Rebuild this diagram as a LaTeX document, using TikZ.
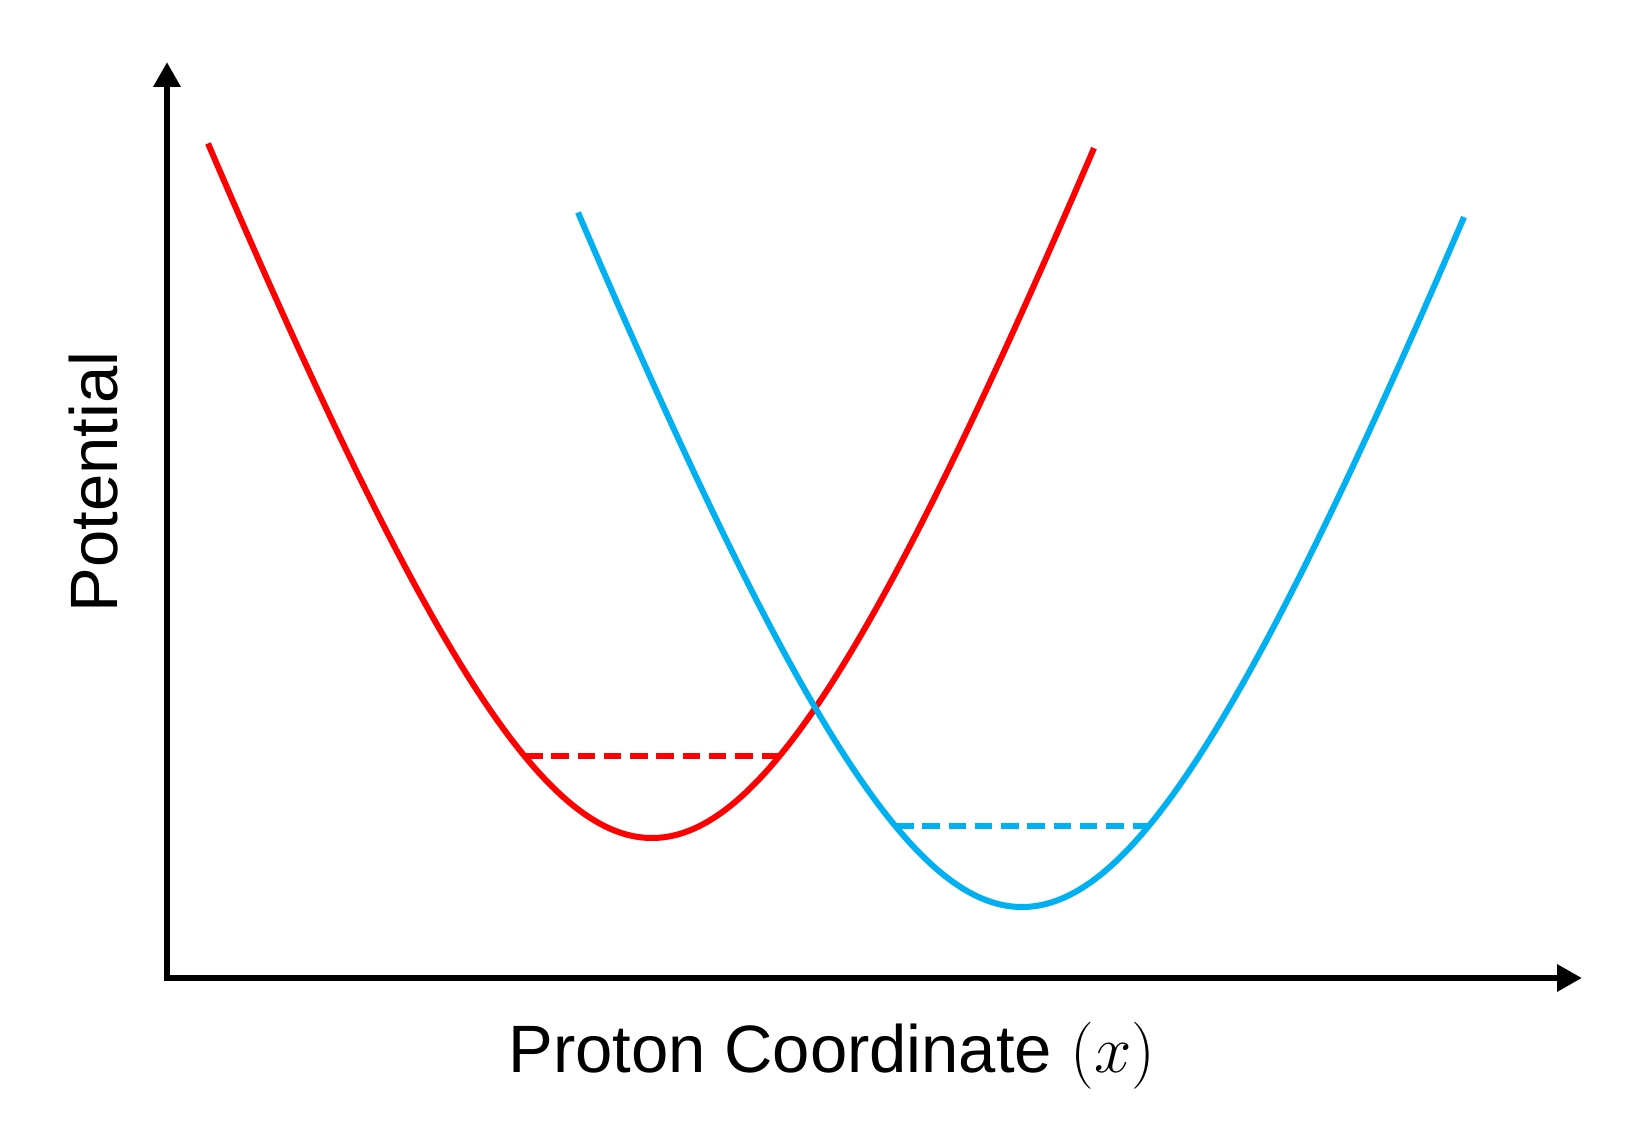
\RequirePackage{fix-cm}
\documentclass[tikz,border=0pt]{standalone}
\usepackage{fontspec}
\setmainfont{Liberation Sans}
\usetikzlibrary{arrows.meta}
\definecolor{curvered}{RGB}{255,0,0}
\definecolor{curveblue}{RGB}{0,176,240}
\tikzset{
  axisline/.style={line width=3.3pt, line join=miter, {Triangle[length=12.5pt,width=13pt]}-{Triangle[length=12.5pt,width=13pt]}},
  wellcurve/.style={line width=3pt},
  levelline/.style={line width=3.1pt, dash pattern=on 8.76pt off 4.38pt},
  axislabel/.style={font=\fontsize{33.5}{40}\selectfont, inner sep=0pt, anchor=base},
}
\begin{document}
\begin{tikzpicture}[x=0.5pt,y=-0.5pt]
\useasboundingbox (0,0) rectangle (1648,1143);
% axes
\coordinate (ytip) at (167,62);
\coordinate (origin) at (167,978);
\coordinate (xtip) at (1582,978);
\draw[axisline] (ytip) -- (origin) -- (xtip);
% red well (vertex 652,838)
\draw[wellcurve, curvered] plot[domain=-444:442, samples=160, smooth]
  ({652+\x},{838-669*(sqrt(1+(\x/250)^2)-1)});
% blue well (vertex 1022,907)
\draw[wellcurve, curveblue] plot[domain=-444:442, samples=160, smooth]
  ({1022+\x},{907-669*(sqrt(1+(\x/250)^2)-1)});
% levels
\coordinate (rl) at (525,756);
\coordinate (rr) at (780,756);
\coordinate (bl) at (896,826);
\coordinate (br) at (1149,826);
\draw[levelline, curvered] (rl) -- (rr);
\draw[levelline, curveblue] (bl) -- (br);
% labels
\node[axislabel] (xlabel) at (832,1072) {Proton Coordinate $(x)$};
\node[axislabel, rotate=90] (ylabel) at (117,482) {Potential};
\end{tikzpicture}
\end{document}
